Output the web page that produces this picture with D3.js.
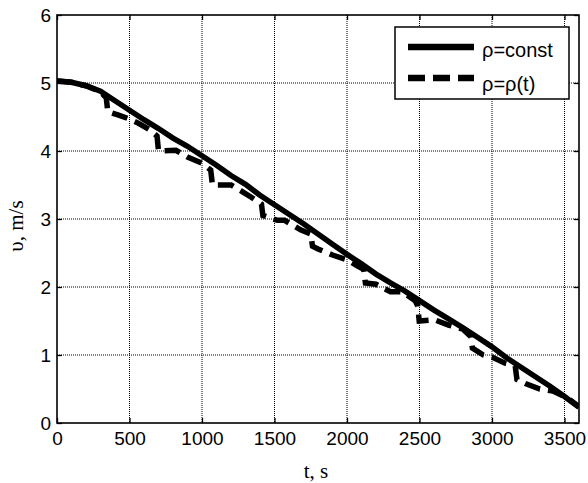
<!DOCTYPE html>
<html><head><meta charset="utf-8">
<script src="https://cdn.jsdelivr.net/npm/d3@7"></script>
<style>body{margin:0;background:#fff}svg{display:block}</style>
</head><body>
<svg id="chart" width="588" height="483"></svg>
<script>
const xTicks = [0,500,1000,1500,2000,2500,3000,3500];
const yTicks = [0,1,2,3,4,5,6];
const seriesNames = ["ρ=const","ρ=ρ(t)"];
const constT = [0,100,200,300,400,500,600,700,800,900,1000,1100,1200,1300,1400,1500,1600,1700,1800,1900,2000,2100,2200,2300,2400,2500,2600,2700,2800,2900,3000,3100,3200,3300,3400,3500,3600];
const constV = [5.03,5.01,4.96,4.88,4.74,4.60,4.46,4.33,4.19,4.07,3.93,3.79,3.64,3.51,3.35,3.21,3.07,2.93,2.78,2.63,2.48,2.34,2.19,2.06,1.94,1.80,1.66,1.53,1.40,1.26,1.12,0.96,0.82,0.68,0.54,0.39,0.23];
const varT = [0,100,200,300,340,350,420,500,560,640,690,700,820,900,1000,1060,1072,1200,1280,1340,1410,1420,1440,1520,1570,1680,1750,1762,1800,1900,2000,2080,2115,2127,2200,2300,2380,2470,2488,2498,2600,2700,2800,2855,2865,2940,3000,3090,3160,3172,3230,3330,3420,3520,3600];
const varV = [5.03,5.01,4.96,4.87,4.78,4.58,4.53,4.47,4.41,4.31,4.22,4.00,4.01,3.91,3.82,3.72,3.50,3.50,3.40,3.32,3.22,3.05,3.04,2.98,2.98,2.84,2.78,2.60,2.56,2.47,2.40,2.30,2.26,2.06,2.04,1.93,1.93,1.80,1.72,1.50,1.52,1.44,1.38,1.27,1.10,1.00,0.97,0.88,0.84,0.64,0.58,0.50,0.47,0.37,0.24];

const L=57, R=579, T=15, B=423;
const svg = d3.select("#chart");
const x = d3.scaleLinear().domain([0,3600]).range([L,R]);
const y = d3.scaleLinear().domain([0,6]).range([B,T]);

// grid
const g = svg.append("g");
g.selectAll("line.gx").data(xTicks.filter(d=>d>0)).join("line")
  .attr("x1",d=>x(d)).attr("x2",d=>x(d)).attr("y1",T).attr("y2",B)
  .attr("stroke","#000").attr("stroke-width",1).attr("stroke-dasharray","1,1");
g.selectAll("line.gy").data(yTicks.filter(d=>d>0&&d<6)).join("line")
  .attr("y1",d=>y(d)).attr("y2",d=>y(d)).attr("x1",L).attr("x2",R)
  .attr("stroke","#000").attr("stroke-width",1).attr("stroke-dasharray","1,1");

// axes
const font = "'Liberation Sans', Arial, sans-serif";
const ax = svg.append("g").attr("transform",`translate(0,${B})`)
  .call(d3.axisBottom(x).tickValues(xTicks).tickSize(-5).tickPadding(9).tickFormat(d3.format("d")));
const axT = svg.append("g").attr("transform",`translate(0,${T})`)
  .call(d3.axisTop(x).tickValues(xTicks).tickSize(-5).tickFormat(""));
const ay = svg.append("g").attr("transform",`translate(${L},0)`)
  .call(d3.axisLeft(y).tickValues(yTicks).tickSize(-5).tickPadding(6).tickFormat(d3.format("d")));
const ayR = svg.append("g").attr("transform",`translate(${R},0)`)
  .call(d3.axisRight(y).tickValues(yTicks).tickSize(-5).tickFormat(""));
[ax,axT,ay,ayR].forEach(a=>{
  a.select(".domain").remove();
  a.selectAll("line").attr("stroke","#000").attr("stroke-width",1.3);
  a.selectAll("text").attr("font-family",font).attr("font-size",19).attr("fill","#000");
});
ax.selectAll("text").attr("dy","0.71em");
svg.append("rect").attr("x",L).attr("y",T).attr("width",R-L).attr("height",B-T)
  .attr("fill","none").attr("stroke","#000").attr("stroke-width",1.6);

// lines
const line = d3.line().x(d=>x(d[0])).y(d=>y(d[1]));
svg.append("clipPath").attr("id","c").append("rect")
  .attr("x",L).attr("y",T).attr("width",R-L).attr("height",B-T);
svg.append("path").datum(constT.map((t,i)=>[t,constV[i]]))
  .attr("d",line).attr("fill","none").attr("stroke","#000").attr("stroke-width",5.5)
  .attr("clip-path","url(#c)");
svg.append("path").datum(varT.map((t,i)=>[t,varV[i]]))
  .attr("d",line).attr("fill","none").attr("stroke","#000").attr("stroke-width",5.5)
  .attr("stroke-dasharray","16,8").attr("clip-path","url(#c)");

// legend
const lg = svg.append("g");
lg.append("rect").attr("x",395).attr("y",27).attr("width",174).attr("height",72)
  .attr("fill","#fff").attr("stroke","#000").attr("stroke-width",1.5);
lg.append("line").attr("x1",408).attr("x2",474).attr("y1",47).attr("y2",47)
  .attr("stroke","#000").attr("stroke-width",6.5);
lg.append("line").attr("x1",408).attr("x2",474).attr("y1",78).attr("y2",78)
  .attr("stroke","#000").attr("stroke-width",6.5).attr("stroke-dasharray","17,8");
lg.append("text").attr("x",482).attr("y",57).text(seriesNames[0])
  .attr("font-family",font).attr("font-size",20);
lg.append("text").attr("x",482).attr("y",91).text(seriesNames[1])
  .attr("font-family",font).attr("font-size",20);

// axis labels
const serif = "'Liberation Serif', 'Times New Roman', serif";
svg.append("text").attr("x",316).attr("y",478).attr("text-anchor","middle")
  .attr("font-family",serif).attr("font-size",21).text("t, s");
svg.append("text").attr("transform","translate(23,226) rotate(-90)").attr("text-anchor","middle")
  .attr("font-family",serif).attr("font-size",21).text("υ, m/s");
</script>
</body></html>
